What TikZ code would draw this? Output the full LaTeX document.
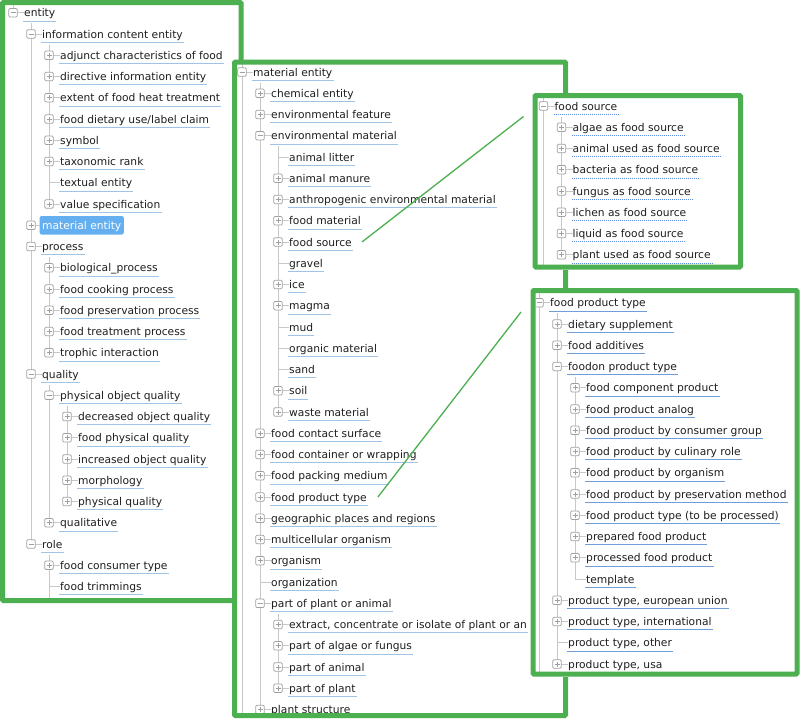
\documentclass[tikz,border=0pt]{standalone}
\usepackage{fontspec}
\setmainfont{DejaVu Sans}
\definecolor{framegreen}{RGB}{76,175,80}
\definecolor{linegray}{RGB}{200,200,200}
\definecolor{boxgray}{RGB}{160,160,160}
\definecolor{ulblue}{RGB}{160,195,230}
\definecolor{ulsteel}{RGB}{110,160,215}
\definecolor{dotblue}{RGB}{90,140,225}
\definecolor{selblue}{RGB}{100,175,240}
\definecolor{txtcol}{RGB}{30,30,30}
\tikzset{
  lbl/.style={anchor=west, inner sep=0pt, text height=10pt, text depth=2pt,
    font=\fontsize{10.7pt}{12pt}\selectfont, text=txtcol},
  sel/.style={fill=selblue, text=white, rounded corners=2pt, inner xsep=2.5pt, inner ysep=3.25pt},
  tline/.style={draw=linegray, line width=0.8pt},
  uline/.style={draw=ulblue, line width=0.8pt},
  under/.style={uline},
  frame/.style={draw=framegreen, line width=5pt, rounded corners=1pt},
  link/.style={draw=framegreen, line width=1.3pt},
  pbox/.style={draw=boxgray, fill=white, rounded corners=1.2pt, minimum size=8.5pt,
    inner sep=0pt, line width=0.7pt,
    path picture={\draw[boxgray, line width=0.7pt]
      (path picture bounding box.center) +(-2.5pt,0) -- +(2.5pt,0)
      (path picture bounding box.center) +(0,-2.5pt) -- +(0,2.5pt);}},
  mbox/.style={draw=boxgray, fill=white, rounded corners=1.2pt, minimum size=8.5pt,
    inner sep=0pt, line width=0.7pt,
    path picture={\draw[boxgray, line width=0.7pt]
      (path picture bounding box.center) +(-2.5pt,0) -- +(2.5pt,0);}}
}
% one row of a tree: name, level, row, text
\newcommand\treeitem[4]{%
  \coordinate (#1-k) at ({\indentx+18*#2-11},{\firsty+21.25*#3});
  \node[lbl] (#1) at ({\indentx+18*#2},{\firsty+21.25*#3}) {#4};
  \draw[tline] (#1-k) -- (#1.west);
  \draw[under] ([xshift=-1pt,yshift=-2pt]#1.south west) -- ([xshift=1pt,yshift=-2pt]#1.south east);
}
\begin{document}
\begin{tikzpicture}[x=1pt, y=-1pt]
  \useasboundingbox (0,0) rectangle (800,720);
  \fill[white] (0,0) rectangle (800,720);

  % left panel: entity
  \begin{scope}
    \clip (5,5) rectangle (238.5,598);
    \def\indentx{24}\def\firsty{12.75}
    \coordinate (a-top) at (0,0);
    \coordinate (a-bot) at (0,600);
    \treeitem{a-ent}{0}{0}{entity}
    \treeitem{a-ice}{1}{1}{information content entity}
    \treeitem{a-adj}{2}{2}{adjunct characteristics of food}
    \treeitem{a-dir}{2}{3}{directive information entity}
    \treeitem{a-ext}{2}{4}{extent of food heat treatment}
    \treeitem{a-diet}{2}{5}{food dietary use/label claim}
    \treeitem{a-sym}{2}{6}{symbol}
    \treeitem{a-tax}{2}{7}{taxonomic rank}
    \treeitem{a-txt}{2}{8}{textual entity}
    \treeitem{a-val}{2}{9}{value specification}
    \coordinate (a-mat-k) at ({\indentx+18-11},{\firsty+21.25*10});
    \node[lbl, sel] (a-mat) at ({\indentx+18-2.5},{\firsty+21.25*10}) {material entity};
    \draw[tline] (a-mat-k) -- (a-mat.west);
    \treeitem{a-proc}{1}{11}{process}
    \treeitem{a-bio}{2}{12}{biological\_process}
    \treeitem{a-cook}{2}{13}{food cooking process}
    \treeitem{a-pres}{2}{14}{food preservation process}
    \treeitem{a-treat}{2}{15}{food treatment process}
    \treeitem{a-troph}{2}{16}{trophic interaction}
    \treeitem{a-qual}{1}{17}{quality}
    \treeitem{a-poq}{2}{18}{physical object quality}
    \treeitem{a-dec}{3}{19}{decreased object quality}
    \treeitem{a-fpq}{3}{20}{food physical quality}
    \treeitem{a-inc}{3}{21}{increased object quality}
    \treeitem{a-morph}{3}{22}{morphology}
    \treeitem{a-phq}{3}{23}{physical quality}
    \treeitem{a-qlt}{2}{24}{qualitative}
    \treeitem{a-role}{1}{25}{role}
    \treeitem{a-fct}{2}{26}{food consumer type}
    \treeitem{a-trim}{2}{27}{food trimmings}
    \draw[tline] (a-ent-k |- a-top) -- (a-ent-k);
    \draw[tline] ([yshift=-4.5pt]a-ice-k |- a-ent.south) -- (a-role-k);
    \draw[tline] ([yshift=-4.5pt]a-adj-k |- a-ice.south) -- (a-val-k);
    \draw[tline] ([yshift=-4.5pt]a-bio-k |- a-proc.south) -- (a-troph-k);
    \draw[tline] ([yshift=-4.5pt]a-poq-k |- a-qual.south) -- (a-qlt-k);
    \draw[tline] ([yshift=-4.5pt]a-dec-k |- a-poq.south) -- (a-phq-k);
    \draw[tline] ([yshift=-4.5pt]a-fct-k |- a-role.south) -- (a-fct-k |- a-bot);
    \foreach \n in {a-adj,a-dir,a-ext,a-diet,a-sym,a-tax,a-val,a-mat,a-bio,a-cook,
        a-pres,a-treat,a-troph,a-dec,a-fpq,a-inc,a-morph,a-phq,a-qlt,a-fct}
      \node[pbox] (\n-b) at (\n-k) {};
    \foreach \n in {a-ent,a-ice,a-proc,a-qual,a-poq,a-role}
      \node[mbox] (\n-b) at (\n-k) {};
  \end{scope}
  \draw[frame] (2.5,2.5) rectangle (241,600.5);

  % middle panel: material entity
  \fill[white] (232,59.5) rectangle (568,718);
  \begin{scope}
    \clip (237,64.5) rectangle (563,713);
    \def\indentx{253}\def\firsty{72}
    \coordinate (b-top) at (0,60);
    \coordinate (b-bot) at (0,720);
    \treeitem{b-me}{0}{0}{material entity}
    \treeitem{b-chem}{1}{1}{chemical entity}
    \treeitem{b-envf}{1}{2}{environmental feature}
    \treeitem{b-envm}{1}{3}{environmental material}
    \treeitem{b-litter}{2}{4}{animal litter}
    \treeitem{b-manure}{2}{5}{animal manure}
    \treeitem{b-anthro}{2}{6}{anthropogenic environmental material}
    \treeitem{b-fmat}{2}{7}{food material}
    \treeitem{b-fsrc}{2}{8}{food source}
    \treeitem{b-gravel}{2}{9}{gravel}
    \treeitem{b-ice}{2}{10}{ice}
    \treeitem{b-magma}{2}{11}{magma}
    \treeitem{b-mud}{2}{12}{mud}
    \treeitem{b-orgmat}{2}{13}{organic material}
    \treeitem{b-sand}{2}{14}{sand}
    \treeitem{b-soil}{2}{15}{soil}
    \treeitem{b-waste}{2}{16}{waste material}
    \treeitem{b-fcs}{1}{17}{food contact surface}
    \treeitem{b-fcw}{1}{18}{food container or wrapping}
    \treeitem{b-fpm}{1}{19}{food packing medium}
    \treeitem{b-fpt}{1}{20}{food product type}
    \treeitem{b-geo}{1}{21}{geographic places and regions}
    \treeitem{b-multi}{1}{22}{multicellular organism}
    \treeitem{b-orgm}{1}{23}{organism}
    \treeitem{b-orgz}{1}{24}{organization}
    \treeitem{b-ppa}{1}{25}{part of plant or animal}
    \treeitem{b-extr}{2}{26}{extract, concentrate or isolate of plant or an}
    \treeitem{b-pafu}{2}{27}{part of algae or fungus}
    \treeitem{b-pan}{2}{28}{part of animal}
    \treeitem{b-ppl}{2}{29}{part of plant}
    \treeitem{b-pst}{1}{30}{plant structure}
    \draw[tline] (b-me-k |- b-top) -- (b-me-k |- b-bot);
    \draw[tline] ([yshift=-4.5pt]b-chem-k |- b-me.south) -- (b-pst-k |- b-bot);
    \draw[tline] ([yshift=-4.5pt]b-litter-k |- b-envm.south) -- (b-waste-k);
    \draw[tline] ([yshift=-4.5pt]b-extr-k |- b-ppa.south) -- (b-ppl-k);
    \foreach \n in {b-chem,b-envf,b-manure,b-anthro,b-fmat,b-fsrc,b-ice,b-magma,
        b-soil,b-waste,b-fcs,b-fcw,b-fpm,b-fpt,b-geo,b-multi,b-orgm,b-extr,
        b-pafu,b-pan,b-ppl,b-pst}
      \node[pbox] (\n-b) at (\n-k) {};
    \foreach \n in {b-me,b-envm,b-ppa}
      \node[mbox] (\n-b) at (\n-k) {};
  \end{scope}
  \draw[frame] (234.5,62) rectangle (565.5,715.5);

  % right panel: food source
  \fill[white] (532.5,93) rectangle (743,269.5);
  \begin{scope}[under/.style={draw=dotblue, line width=0.8pt, dash pattern=on 1pt off 1pt}]
    \clip (537.5,98) rectangle (738,264.5);
    \def\indentx{554.5}\def\firsty{106}
    \coordinate (c-top) at (0,93);
    \coordinate (c-bot) at (0,270);
    \treeitem{c-fs}{0}{0}{food source}
    \treeitem{c-alg}{1}{1}{algae as food source}
    \treeitem{c-ani}{1}{2}{animal used as food source}
    \treeitem{c-bac}{1}{3}{bacteria as food source}
    \treeitem{c-fun}{1}{4}{fungus as food source}
    \treeitem{c-lic}{1}{5}{lichen as food source}
    \treeitem{c-liq}{1}{6}{liquid as food source}
    \treeitem{c-pla}{1}{7}{plant used as food source}
    \draw[tline] (c-fs-k |- c-top) -- (c-fs-k |- c-bot);
    \draw[tline] ([yshift=-4.5pt]c-alg-k |- c-fs.south) -- (c-pla-k);
    \foreach \n in {c-alg,c-ani,c-bac,c-fun,c-lic,c-liq,c-pla}
      \node[pbox] (\n-b) at (\n-k) {};
    \node[mbox] (c-fs-b) at (c-fs-k) {};
  \end{scope}
  \draw[frame] (535,95.5) rectangle (740.5,267);

  % right panel: food product type
  \fill[white] (530.5,288) rectangle (799.5,676.5);
  \begin{scope}[under/.style={draw=ulsteel, line width=0.8pt}]
    \clip (535.5,293) rectangle (794.5,671.5);
    \def\indentx{550}\def\firsty{302.75}
    \coordinate (d-top) at (0,288);
    \coordinate (d-bot) at (0,680);
    \treeitem{d-fpt}{0}{0}{food product type}
    \treeitem{d-diet}{1}{1}{dietary supplement}
    \treeitem{d-add}{1}{2}{food additives}
    \treeitem{d-fon}{1}{3}{foodon product type}
    \treeitem{d-comp}{2}{4}{food component product}
    \treeitem{d-anl}{2}{5}{food product analog}
    \treeitem{d-cons}{2}{6}{food product by consumer group}
    \treeitem{d-cul}{2}{7}{food product by culinary role}
    \treeitem{d-orgm}{2}{8}{food product by organism}
    \treeitem{d-pres}{2}{9}{food product by preservation method}
    \treeitem{d-tbp}{2}{10}{food product type (to be processed)}
    \treeitem{d-prep}{2}{11}{prepared food product}
    \treeitem{d-proc}{2}{12}{processed food product}
    \treeitem{d-tmpl}{2}{13}{template}
    \treeitem{d-eu}{1}{14}{product type, european union}
    \treeitem{d-int}{1}{15}{product type, international}
    \treeitem{d-oth}{1}{16}{product type, other}
    \treeitem{d-usa}{1}{17}{product type, usa}
    \draw[tline] (d-fpt-k |- d-top) -- (d-fpt-k |- d-bot);
    \draw[tline] ([yshift=-4.5pt]d-diet-k |- d-fpt.south) -- (d-usa-k);
    \draw[tline] ([yshift=-4.5pt]d-comp-k |- d-fon.south) -- (d-tmpl-k);
    \foreach \n in {d-diet,d-add,d-comp,d-anl,d-cons,d-cul,d-orgm,d-pres,d-tbp,
        d-prep,d-proc,d-eu,d-int,d-usa}
      \node[pbox] (\n-b) at (\n-k) {};
    \foreach \n in {d-fpt,d-fon}
      \node[mbox] (\n-b) at (\n-k) {};
  \end{scope}
  \draw[frame] (533,290.5) rectangle (797,674);

  % zoom links
  \coordinate (fs-end) at (523.5,116.5);
  \coordinate (fpt-end) at (521,312);
  \draw[link] ([xshift=10pt]b-fsrc.east) -- (fs-end);
  \draw[link] ([xshift=11pt]b-fpt.east) -- (fpt-end);
\end{tikzpicture}
\end{document}
